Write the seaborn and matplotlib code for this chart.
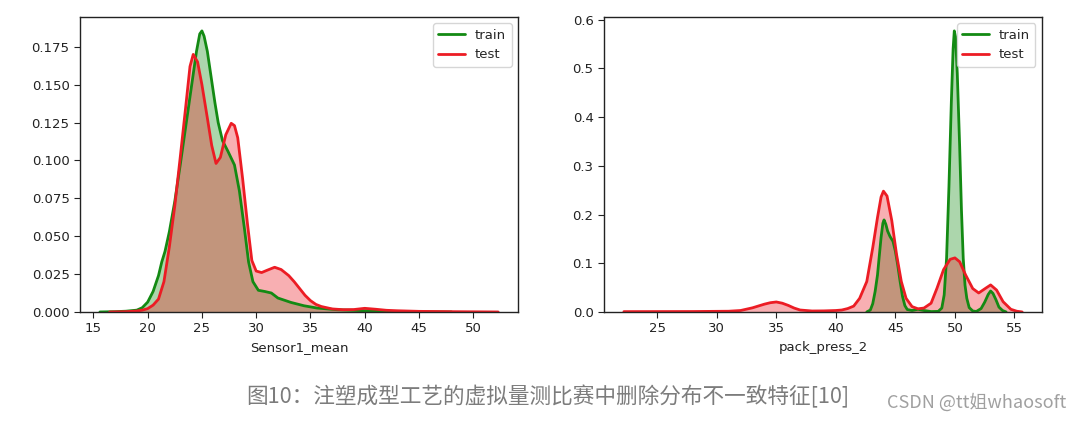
import matplotlib
matplotlib.use("Agg")
import matplotlib.pyplot as plt
import seaborn as sns

# Density estimates of Sensor1_mean (train / test)
sensor_train_x = [15.6, 17.0, 18.0, 19.0, 19.5, 20.0, 20.5, 21.0, 21.3, 21.6, 22.0, 22.5, 23.0,
                  23.5, 24.0, 24.5, 24.8, 25.0, 25.2, 25.5, 25.85, 26.2, 26.5, 26.9, 27.4, 28.0,
                  28.45, 28.9, 29.3, 29.7, 30.2, 30.8, 31.4, 32.0, 33.2, 34.4, 35.6, 37.4, 40.0,
                  43.0, 46.0, 48.0]
sensor_train_y = [0.0, 0.0002, 0.0005, 0.0012, 0.0028, 0.0065, 0.0135, 0.024, 0.033, 0.040, 0.053,
                  0.073, 0.097, 0.122, 0.147, 0.172, 0.1835, 0.1855, 0.182, 0.172, 0.155, 0.138,
                  0.125, 0.113, 0.106, 0.097, 0.080, 0.056, 0.033, 0.020, 0.0143, 0.0135, 0.0125,
                  0.0092, 0.0063, 0.0041, 0.0026, 0.0015, 0.0008, 0.0003, 0.0001, 0.0]

sensor_test_x = [16.5, 18.0, 19.0, 19.5, 20.0, 20.5, 21.0, 21.5, 22.0, 22.5, 23.0, 23.5, 23.9,
                 24.2, 24.6, 25.0, 25.5, 25.9, 26.3, 26.7, 27.2, 27.7, 28.0, 28.3, 28.75, 29.2,
                 29.6, 30.0, 30.5, 31.0, 31.7, 32.3, 33.0, 33.5, 34.0, 34.5, 35.0, 35.5, 36.0,
                 37.0, 38.0, 39.0, 40.0, 41.0, 42.0, 43.0, 45.0, 48.0, 52.3]
sensor_test_y = [0.0, 0.0002, 0.0006, 0.0012, 0.0022, 0.0045, 0.0085, 0.020, 0.043, 0.070, 0.102,
                 0.135, 0.162, 0.170, 0.165, 0.150, 0.128, 0.110, 0.098, 0.102, 0.117, 0.1245,
                 0.123, 0.115, 0.088, 0.058, 0.034, 0.027, 0.026, 0.0275, 0.0295, 0.028, 0.024,
                 0.020, 0.0155, 0.011, 0.0075, 0.005, 0.0036, 0.002, 0.0015, 0.0016, 0.0024,
                 0.0018, 0.0011, 0.0008, 0.0004, 0.0002, 0.0]

# Density estimates of pack_press_2 (train / test)
press_train_x = [42.6, 42.9, 43.1, 43.3, 43.5, 43.65, 43.8, 43.95, 44.05, 44.2, 44.35, 44.55,
                 44.8, 45.0, 45.2, 45.4, 45.6, 45.8, 46.0, 46.4, 46.9, 47.4, 48.0, 48.6, 48.9,
                 49.1, 49.3, 49.5, 49.7, 49.85, 49.95, 50.05, 50.2, 50.4, 50.55, 50.7, 50.85,
                 51.0, 51.2, 51.5, 51.8, 52.2, 52.5, 52.8, 53.0, 53.2, 53.45, 53.7, 54.0, 54.3]
press_train_y = [0.0, 0.004, 0.017, 0.042, 0.076, 0.115, 0.153, 0.182, 0.189, 0.180, 0.166,
                 0.155, 0.145, 0.125, 0.096, 0.0625, 0.032, 0.013, 0.005, 0.003, 0.0055, 0.003,
                 0.0008, 0.0012, 0.008, 0.035, 0.11, 0.257, 0.43, 0.54, 0.577, 0.565, 0.49,
                 0.34, 0.21, 0.11, 0.055, 0.028, 0.009, 0.002, 0.001, 0.007, 0.02, 0.036, 0.043,
                 0.038, 0.025, 0.01, 0.003, 0.0]

press_test_x = [22.2, 25.0, 28.0, 31.0, 32.0, 33.0, 34.0, 34.5, 35.0, 35.5, 36.0, 36.5, 37.0,
                38.0, 39.0, 40.0, 40.5, 41.0, 41.5, 42.0, 42.6, 43.1, 43.5, 43.8, 44.0, 44.3,
                44.7, 45.1, 45.5, 45.9, 46.4, 46.9, 47.4, 48.0, 48.5, 49.05, 49.6, 50.0, 50.4,
                50.9, 51.5, 52.0, 52.6, 53.0, 53.5, 54.05, 54.7, 55.2, 55.65]
press_test_y = [0.0007, 0.0008, 0.0009, 0.0015, 0.003, 0.0085, 0.016, 0.019, 0.0205, 0.018,
                0.0135, 0.008, 0.004, 0.002, 0.0022, 0.003, 0.004, 0.007, 0.012, 0.028, 0.0625,
                0.132, 0.194, 0.236, 0.248, 0.238, 0.1875, 0.118, 0.0625, 0.028, 0.011, 0.0065,
                0.008, 0.018, 0.049, 0.087, 0.108, 0.111, 0.103, 0.076, 0.048, 0.039, 0.049,
                0.0555, 0.045, 0.021, 0.0055, 0.0015, 0.0]

series_labels = ["train", "test"]
feature_names = ["Sensor1_mean", "pack_press_2"]
caption = "图10：注塑成型工艺的虚拟量测比赛中删除分布不一致特征[10]"
watermark = "CSDN @tt姐whaosoft"

TRAIN_COLOR = "#138a13"
TEST_COLOR = "#ec1c24"

sns.set_style("ticks")
plt.rcParams["font.family"] = ["DejaVu Sans", "Noto Sans CJK SC"]
plt.rcParams["axes.edgecolor"] = "#222222"
plt.rcParams["xtick.color"] = "#222222"
plt.rcParams["ytick.color"] = "#222222"

fig, axes = plt.subplots(1, 2, figsize=(10.81, 4.21), dpi=100)
fig.subplots_adjust(left=0.074, right=0.964, bottom=0.259, top=0.96, wspace=0.196)


def density(ax, x, y, color, label):
    sns.lineplot(x=x, y=y, color=color, lw=2.0, label=label, estimator=None, ax=ax)
    ax.fill_between(x, y, color=color, alpha=0.35, lw=0)


panels = [
    (sensor_train_x, sensor_train_y, sensor_test_x, sensor_test_y),
    (press_train_x, press_train_y, press_test_x, press_test_y),
]

for ax, name, (trx, tr_y, tex, te_y) in zip(axes, feature_names, panels):
    density(ax, trx, tr_y, TRAIN_COLOR, series_labels[0])
    density(ax, tex, te_y, TEST_COLOR, series_labels[1])
    top = max(max(tr_y), max(te_y)) * 1.05
    ax.set_ylim(0, top)
    ax.set_xlabel(name, fontsize=9.5, color="#222222")
    ax.set_ylabel("")
    ax.tick_params(labelsize=9.5, length=4)
    for s in ax.spines.values():
        s.set_linewidth(1.0)
    ax.legend(loc="upper right", fontsize=9.5, handlelength=2.0)

axes[0].yaxis.set_major_formatter(matplotlib.ticker.FormatStrFormatter("%.3f"))
axes[1].yaxis.set_major_formatter(matplotlib.ticker.FormatStrFormatter("%.1f"))

fig.text(0.507, 0.057, caption, ha="center", va="center", fontsize=15.6, color="#7c7c7c",
         family=["Noto Sans CJK SC", "DejaVu Sans"])
fig.text(0.986, 0.045, watermark, ha="right", va="center", fontsize=13, color="#a0a0a0",
         family=["Noto Sans CJK SC", "DejaVu Sans"])

fig.savefig("out.png", dpi=100)
